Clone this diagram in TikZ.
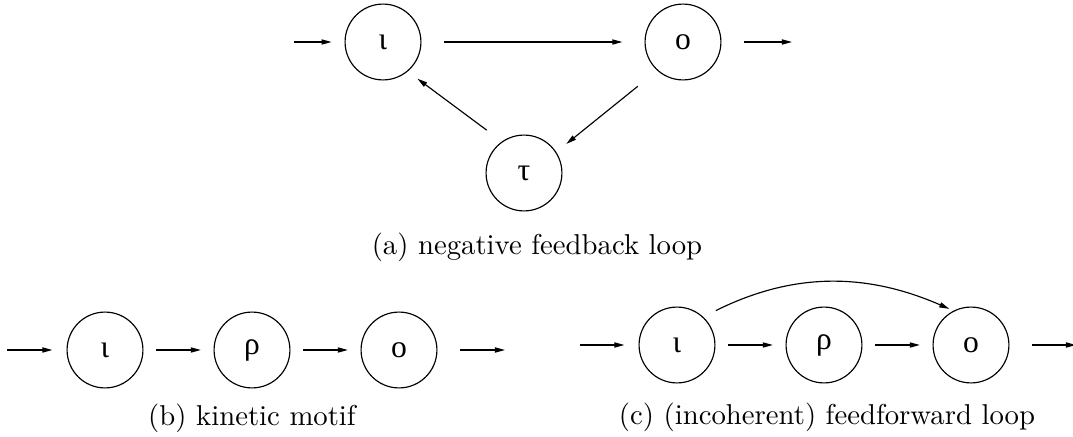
\documentclass[tikz,border=0pt]{standalone}
\usepackage{fontspec}
\newfontfamily\greekfont{Liberation Serif}
\usetikzlibrary{arrows.meta}

\tikzset{
    species/.style={circle, draw, minimum size=26.4pt, inner sep=0pt,
        font=\greekfont\fontsize{11}{13}\selectfont},
    arr/.style={-{Triangle[length=3.5pt,width=1.8pt]}},
}

\begin{document}
\begin{tikzpicture}[x=0.348pt, y=-0.348pt]  % one unit is one pixel of the reference
    % Fix the page size
    \useasboundingbox (0,0) rectangle (1073,437);

    % (a) negative feedback loop
    \node[species] (iotaA) at (383,42) {ι};
    \node[species] (omA) at (683,42) {ο};
    \node[species] (tauA) at (524,173) {τ};
    \coordinate (inA) at (294,42);
    \coordinate (outA) at (792,42);
    \draw[arr, shorten >=4.5pt] (inA) -- (iotaA);
    \draw[arr, shorten <=7.7pt, shorten >=7.7pt] (iotaA) -- (omA);
    \draw[arr, shorten <=7.7pt] (omA) -- (outA);
    \draw[arr, shorten <=8.7pt, shorten >=4.5pt] (omA.228) -- (tauA.33);
    \draw[arr, shorten <=6.6pt, shorten >=4.2pt] (tauA.125) -- (iotaA.-50);
    \node (capA) at (537,247) {(a) negative feedback loop};

    % (b) kinetic motif
    \node[species] (iotaB) at (105,350) {ι};
    \node[species] (rhoB) at (252,350) {ρ};
    \node[species] (omB) at (399,350) {ο};
    \coordinate (inB) at (7,350);
    \coordinate (outB) at (505,350);
    \node (capB) at (252,418) {(b) kinetic motif};

    % (c) (incoherent) feedforward loop
    \node[species] (iotaC) at (677,345) {ι};
    \node[species] (rhoC) at (824,345) {ρ};
    \node[species] (omC) at (971,345) {ο};
    \coordinate (inC) at (580,345);
    \coordinate (outC) at (1076,345);
    \draw[arr, shorten <=4.9pt, shorten >=1.6pt] (iotaC.47) to[bend left=25] (omC.117);
    \node (capC) at (827,417) {(c) (incoherent) feedforward loop};

    % Straight arrows of (b) and (c)
    \foreach \a/\b in {iotaB/rhoB, rhoB/omB, iotaC/rhoC, rhoC/omC}
        \draw[arr, shorten <=4.4pt, shorten >=4.4pt] (\a) -- (\b);
    \foreach \a/\b in {inB/iotaB, inC/iotaC}
        \draw[arr, shorten >=4.9pt] (\a) -- (\b);
    \foreach \a/\b in {omB/outB, omC/outC}
        \draw[arr, shorten <=8pt] (\a) -- (\b);

\end{tikzpicture}
\end{document}
